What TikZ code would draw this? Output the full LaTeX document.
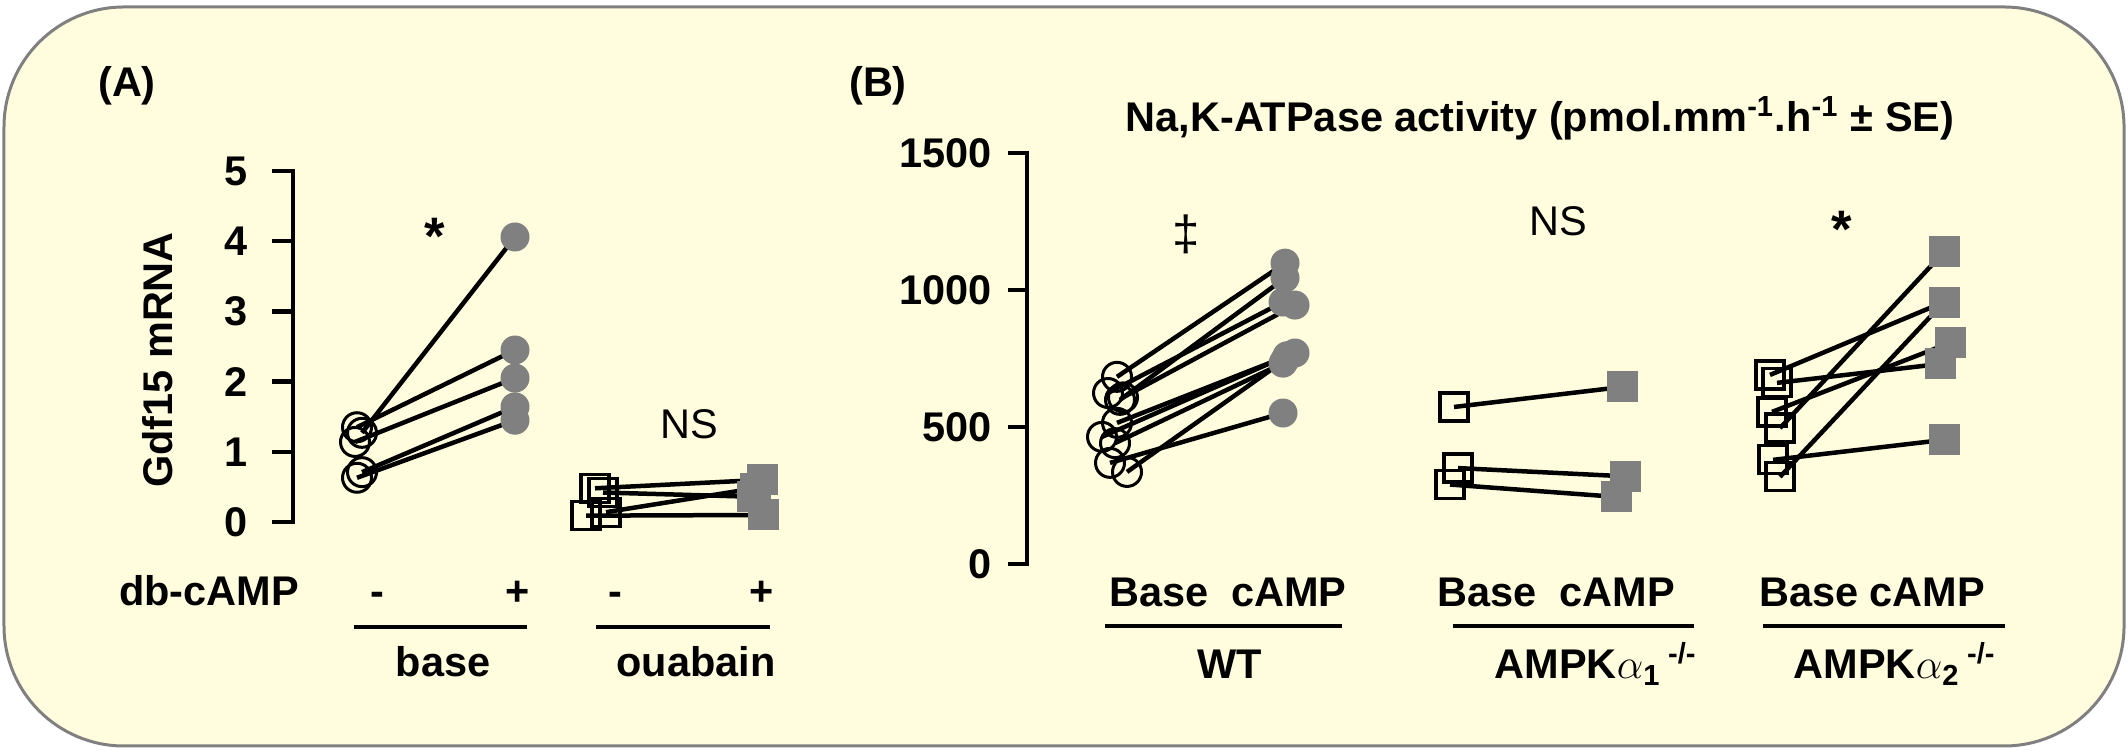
\documentclass[tikz,border=0pt]{standalone}
\usepackage{fontspec}
\setmainfont{Liberation Sans}
\definecolor{frameyellow}{RGB}{255,253,222}
\definecolor{framegray}{RGB}{128,128,128}
\definecolor{markgray}{RGB}{128,128,128}
\pgfdeclarelayer{back}
\pgfsetlayers{back,main}
\tikzset{
	every node/.style={font=\fontsize{11.8}{14}\selectfont\bfseries},
	plain/.style={font=\fontsize{11.8}{14}\selectfont\mdseries},
	axis/.style={line width=0.045cm},
	pair/.style={line width=0.045cm},
	groupline/.style={line width=0.035cm},
	opencirc/.style={circle,draw,line width=0.03cm,minimum size=0.29cm,inner sep=0pt},
	fullcirc/.style={circle,fill=markgray,minimum size=0.29cm,inner sep=0pt},
	opensq/.style={rectangle,draw,line width=0.032cm,minimum size=0.28cm,inner sep=0pt},
	fullsq/.style={rectangle,fill=markgray,minimum size=0.31cm,inner sep=0pt}
}
\begin{document}
\begin{tikzpicture}

		\useasboundingbox (0,0) rectangle (21.28,7.51);
		\begin{pgfonlayer}{back}
			\draw[color=framegray, line width=0.03cm, fill=frameyellow, rounded corners=1.2cm] (0.04,0.05) rectangle (21.24,7.44);
		\end{pgfonlayer}

		\node (labA) at (1.27,6.65) {(A)};
		\node (labB) at (8.78,6.65) {(B)};
		\node[rotate=90] (ylabA) at (1.58,3.91) {Gdf15 mRNA};
		\node[anchor=base] (title) at (15.40,6.19) {Na,K-ATPase activity (pmol.mm\textsuperscript{-1}.h\textsuperscript{-1} ± SE)};

		% panel A
		\begin{scope}[shift={(0,2.29)}, yscale=0.702]
			\draw[axis] (2.72,5) -- (2.93,5) -- (2.93,0) -- (2.72,0);
			\draw[axis] (2.72,4) -- (2.93,4);
			\draw[axis] (2.72,3) -- (2.93,3);
			\draw[axis] (2.72,2) -- (2.93,2);
			\draw[axis] (2.72,1) -- (2.93,1);
			\node[anchor=east, inner sep=0pt] (ta0) at (2.48,0) {0};
			\node[anchor=east, inner sep=0pt] (ta1) at (2.48,1) {1};
			\node[anchor=east, inner sep=0pt] (ta2) at (2.48,2) {2};
			\node[anchor=east, inner sep=0pt] (ta3) at (2.48,3) {3};
			\node[anchor=east, inner sep=0pt] (ta4) at (2.48,4) {4};
			\node[anchor=east, inner sep=0pt] (ta5) at (2.48,5) {5};

			\node[opencirc] (ab1) at (3.57,1.35) {};
			\node[opencirc] (ab2) at (3.62,1.27) {};
			\node[opencirc] (ab3) at (3.55,1.14) {};
			\node[opencirc] (ab4) at (3.62,0.71) {};
			\node[opencirc] (ab5) at (3.57,0.63) {};
			\node[fullcirc] (ac1) at (5.15,4.06) {};
			\node[fullcirc] (ac2) at (5.15,2.45) {};
			\node[fullcirc] (ac3) at (5.15,2.05) {};
			\node[fullcirc] (ac4) at (5.15,1.64) {};
			\node[fullcirc] (ac5) at (5.15,1.45) {};

			\node[opensq] (ob1) at (5.95,0.48) {};
			\node[opensq] (ob2) at (6.03,0.42) {};
			\node[opensq] (ob3) at (5.86,0.09) {};
			\node[opensq] (ob4) at (6.06,0.14) {};
			\node[fullsq] (oc1) at (7.62,0.60) {};
			\node[fullsq] (oc2) at (7.52,0.36) {};
			\node[fullsq] (oc3) at (7.55,0.48) {};
			\node[fullsq] (oc4) at (7.63,0.10) {};

			\begin{pgfonlayer}{back}
				\draw[pair] (ab2.center) -- (ac1.center);
				\draw[pair] (ab1.center) -- (ac2.center);
				\draw[pair] (ab3.center) -- (ac3.center);
				\draw[pair] (ab4.center) -- (ac4.center);
				\draw[pair] (ab5.center) -- (ac5.center);
				\draw[pair] (ob1.center) -- (oc1.center);
				\draw[pair] (ob2.center) -- (oc2.center);
				\draw[pair] (ob4.center) -- (oc3.center);
				\draw[pair] (ob3.center) -- (oc4.center);
			\end{pgfonlayer}
		\end{scope}

		\node[anchor=north, inner sep=0pt, font=\fontsize{15}{16}\selectfont\bfseries] (starA) at (4.35,5.33) {*};
		\node[plain] (nsA) at (6.89,3.27) {NS};
		\node[anchor=base] (dbc) at (2.09,1.45) {db-cAMP};
		\node[anchor=base] (minA) at (3.77,1.45) {-};
		\node[anchor=base] (plusA) at (5.18,1.45) {+};
		\node[anchor=base] (minO) at (6.15,1.45) {-};
		\node[anchor=base] (plusO) at (7.62,1.45) {+};
		\draw[groupline] (3.54,1.24) -- (5.27,1.24);
		\draw[groupline] (5.96,1.24) -- (7.70,1.24);
		\node[anchor=base] (grbase) at (4.43,0.74) {base};
		\node[anchor=base] (grouab) at (6.96,0.74) {ouabain};

		% panel B
		\begin{scope}[shift={(0,1.87)}, yscale=0.274]
			\draw[axis] (10.08,15) -- (10.27,15) -- (10.27,0) -- (10.08,0);
			\draw[axis] (10.08,10) -- (10.27,10);
			\draw[axis] (10.08,5) -- (10.27,5);
			\node[anchor=east, inner sep=0pt] (tb0) at (9.92,0) {0};
			\node[anchor=east, inner sep=0pt] (tb5) at (9.92,5) {500};
			\node[anchor=east, inner sep=0pt] (tb10) at (9.92,10) {1000};
			\node[anchor=east, inner sep=0pt] (tb15) at (9.92,15) {1500};

			\node[opencirc] (wb1) at (11.17,6.83) {};
			\node[opencirc] (wb2) at (11.08,6.24) {};
			\node[opencirc] (wb3) at (11.20,5.99) {};
			\node[opencirc] (wb4) at (11.23,6.08) {};
			\node[opencirc] (wb5) at (11.17,5.15) {};
			\node[opencirc] (wb6) at (11.02,4.64) {};
			\node[opencirc] (wb7) at (11.15,4.41) {};
			\node[opencirc] (wb8) at (11.10,3.69) {};
			\node[opencirc] (wb9) at (11.27,3.36) {};
			\node[fullcirc] (wc1) at (12.85,10.98) {};
			\node[fullcirc] (wc2) at (12.85,10.44) {};
			\node[fullcirc] (wc3) at (12.83,9.56) {};
			\node[fullcirc] (wc4) at (12.95,9.45) {};
			\node[fullcirc] (wc5) at (12.95,7.70) {};
			\node[fullcirc] (wc6) at (12.87,7.60) {};
			\node[fullcirc] (wc7) at (12.83,7.33) {};
			\node[fullcirc] (wc8) at (12.85,7.45) {};
			\node[fullcirc] (wc9) at (12.83,5.51) {};

			\node[opensq] (pb1) at (14.54,5.73) {};
			\node[opensq] (pb2) at (14.58,3.50) {};
			\node[opensq] (pb3) at (14.50,2.90) {};
			\node[fullsq] (pc1) at (16.22,6.46) {};
			\node[fullsq] (pc2) at (16.25,3.20) {};
			\node[fullsq] (pc3) at (16.16,2.45) {};

			\node[opensq] (qb1) at (17.70,6.90) {};
			\node[opensq] (qb2) at (17.77,6.61) {};
			\node[opensq] (qb3) at (17.72,5.55) {};
			\node[opensq] (qb4) at (17.80,4.96) {};
			\node[opensq] (qb5) at (17.73,3.80) {};
			\node[opensq] (qb6) at (17.80,3.18) {};
			\node[fullsq] (qc1) at (19.44,11.39) {};
			\node[fullsq] (qc2) at (19.44,9.56) {};
			\node[fullsq] (qc3) at (19.50,8.07) {};
			\node[fullsq] (qc4) at (19.40,7.30) {};
			\node[fullsq] (qc5) at (19.44,4.53) {};

			\begin{pgfonlayer}{back}
				\draw[pair] (wb1.center) -- (wc1.center);
				\draw[pair] (wb3.center) -- (wc2.center);
				\draw[pair] (wb2.center) -- (wc3.center);
				\draw[pair] (wb4.center) -- (wc4.center);
				\draw[pair] (wb5.center) -- (wc5.center);
				\draw[pair] (wb6.center) -- (wc6.center);
				\draw[pair] (wb7.center) -- (wc7.center);
				\draw[pair] (wb8.center) -- (wc9.center);
				\draw[pair] (wb9.center) -- (wc8.center);
				\draw[pair] (pb1.center) -- (pc1.center);
				\draw[pair] (pb2.center) -- (pc2.center);
				\draw[pair] (pb3.center) -- (pc3.center);
				\draw[pair] (qb1.center) -- (qc2.center);
				\draw[pair] (qb2.center) -- (qc4.center);
				\draw[pair] (qb3.center) -- (qc3.center);
				\draw[pair] (qb4.center) -- (qc1.center);
				\draw[pair] (qb5.center) -- (qc5.center);
				\draw[pair] (qb6.center) -- (qc2.center);
			\end{pgfonlayer}
		\end{scope}

		\node[plain, font=\fontsize{14}{16}\selectfont] (ddag) at (11.86,5.17) {‡};
		\node[plain] (nsB) at (15.58,5.30) {NS};
		\node[anchor=north, inner sep=0pt, font=\fontsize{15}{16}\selectfont\bfseries] (starB) at (18.42,5.40) {*};
		\node[anchor=base] (bcWT) at (12.28,1.44) {Base~~cAMP};
		\node[anchor=base] (bcA1) at (15.56,1.44) {Base~~cAMP};
		\node[anchor=base] (bcA2) at (18.72,1.44) {Base~cAMP};
		\draw[groupline] (11.05,1.25) -- (13.42,1.25);
		\draw[groupline] (14.53,1.25) -- (16.94,1.25);
		\draw[groupline] (17.63,1.25) -- (20.05,1.25);
		\node[anchor=base] (grWT) at (12.30,0.72) {WT};
		\node[anchor=base] (grA1) at (15.96,0.72) {AMPK$\alpha$\textsubscript{1}\,\textsuperscript{-/-}};
		\node[anchor=base] (grA2) at (18.95,0.72) {AMPK$\alpha$\textsubscript{2}\,\textsuperscript{-/-}};

	\end{tikzpicture}
\end{document}
